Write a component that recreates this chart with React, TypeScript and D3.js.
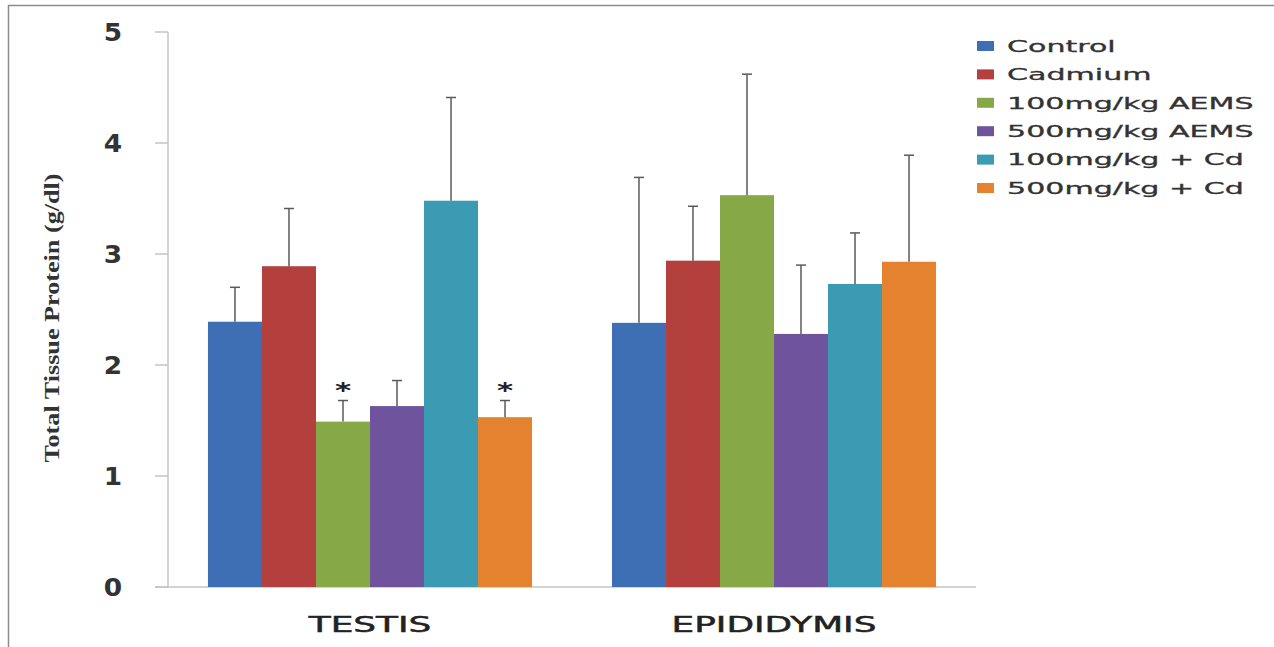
import React, { useEffect, useRef } from 'react';
import * as d3 from 'd3';

const categories = ['TESTIS', 'EPIDIDYMIS'];
const groups = ['Control', 'Cadmium', '100mg/kg AEMS', '500mg/kg AEMS', '100mg/kg + Cd', '500mg/kg + Cd'];
const colors = ['#3e6eb4', '#b3403d', '#87a846', '#70539d', '#3a9bb3', '#e5822f'];
const testisValues = [2.39, 2.89, 1.49, 1.63, 3.48, 1.53];
const testisErrors = [0.31, 0.52, 0.19, 0.23, 0.93, 0.15];
const epididymisValues = [2.38, 2.94, 3.53, 2.28, 2.73, 2.93];
const epididymisErrors = [1.31, 0.49, 1.09, 0.62, 0.46, 0.96];
const significant = [
  [false, false, true, false, false, true],
  [false, false, false, false, false, false]
];
const yTicks = [0, 1, 2, 3, 4, 5];

const W = 1274;
const H = 647;

export default function App() {
  const ref = useRef<SVGSVGElement>(null);

  useEffect(() => {
    const svg = d3.select(ref.current);
    svg.selectAll('*').remove();

    // outer frame of the figure
    svg.append('rect')
      .attr('x', 8.5).attr('y', 5.5)
      .attr('width', W).attr('height', H)
      .attr('fill', 'white')
      .attr('stroke', '#8c8c8c')
      .attr('stroke-width', 1.5);

    const left = 168;
    const right = 976;
    const bottom = 587;
    const top = 32;

    const x0 = d3.scaleBand().domain(categories).range([left, right]).paddingInner(0).paddingOuter(0);
    const x1 = d3.scaleBand().domain(groups).range([0, x0.bandwidth()]).paddingOuter(0.74);
    const y = d3.scaleLinear().domain([0, 5]).range([bottom, top]);

    const values = [testisValues, epididymisValues];
    const errors = [testisErrors, epididymisErrors];

    // axes (the source image is stretched sideways, so text is widened with scale())
    svg.append('line')
      .attr('x1', left).attr('x2', left)
      .attr('y1', y(0)).attr('y2', y(5))
      .attr('stroke', '#c4c4c4').attr('stroke-width', 1.5);
    svg.append('line')
      .attr('x1', left - 13).attr('x2', right)
      .attr('y1', y(0)).attr('y2', y(0))
      .attr('stroke', '#c4c4c4').attr('stroke-width', 1.5);
    yTicks.forEach((t) => {
      svg.append('line')
        .attr('x1', left - 13).attr('x2', left)
        .attr('y1', y(t)).attr('y2', y(t))
        .attr('stroke', '#c4c4c4').attr('stroke-width', 1.5);
      svg.append('text')
        .attr('transform', `translate(113,${y(t)}) scale(1.1,1)`)
        .attr('dy', '0.38em')
        .attr('text-anchor', 'middle')
        .attr('font-family', 'DejaVu Sans, sans-serif')
        .attr('font-weight', 'bold')
        .attr('font-size', 24)
        .attr('fill', '#333')
        .text(t);
    });

    svg.append('text')
      .attr('transform', `translate(59,318) rotate(-90)`)
      .attr('text-anchor', 'middle')
      .attr('font-family', 'Liberation Serif, serif')
      .attr('font-weight', 'bold')
      .attr('font-size', 20)
      .attr('fill', '#333')
      .attr('textLength', 289)
      .attr('lengthAdjust', 'spacingAndGlyphs')
      .text('Total Tissue Protein (g/dl)');

    // bars
    categories.forEach((cat, ci) => {
      const g = svg.append('g').attr('transform', `translate(${x0(cat)},0)`);
      groups.forEach((grp, gi) => {
        const v = values[ci][gi];
        const e = errors[ci][gi];
        const bx = x1(grp) as number;
        const cx = bx + x1.bandwidth() / 2;
        g.append('rect')
          .attr('x', bx).attr('y', y(v))
          .attr('width', x1.bandwidth())
          .attr('height', y(0) - y(v))
          .attr('fill', colors[gi]);
        g.append('line')
          .attr('x1', cx).attr('x2', cx)
          .attr('y1', y(v)).attr('y2', y(v + e))
          .attr('stroke', '#5a5a5a').attr('stroke-width', 1.5);
        g.append('line')
          .attr('x1', cx - 5).attr('x2', cx + 5)
          .attr('y1', y(v + e)).attr('y2', y(v + e))
          .attr('stroke', '#5a5a5a').attr('stroke-width', 1.5);
        if (significant[ci][gi]) {
          g.append('text')
            .attr('transform', `translate(${cx},${y(v + e) - 3}) scale(1.4,1)`)
            .attr('text-anchor', 'middle')
            .attr('font-family', 'DejaVu Sans, sans-serif')
            .attr('font-weight', 'bold')
            .attr('font-size', 22)
            .attr('fill', '#222')
            .text('*');
        }
      });
      svg.append('text')
        .attr('transform', `translate(${(x0(cat) as number) + x0.bandwidth() / 2},632) scale(1.63,1)`)
        .attr('text-anchor', 'middle')
        .attr('font-family', 'DejaVu Sans, sans-serif')
        .attr('font-size', 22)
        .attr('fill', '#222')
        .attr('stroke', '#222')
        .attr('stroke-width', 0.5)
        .text(cat);
    });

    // legend
    const legend = svg.append('g').attr('transform', 'translate(977,46)');
    groups.forEach((grp, gi) => {
      const row = legend.append('g').attr('transform', `translate(0,${gi * 28.4})`);
      row.append('rect')
        .attr('x', 0).attr('y', -5)
        .attr('width', 17).attr('height', 10)
        .attr('fill', colors[gi]);
      row.append('text')
        .attr('transform', 'translate(30,0) scale(1.88,1)')
        .attr('dy', '0.36em')
        .attr('font-family', 'DejaVu Sans, sans-serif')
        .attr('font-size', 16)
        .attr('fill', '#333')
        .attr('stroke', '#333')
        .attr('stroke-width', 0.3)
        .text(grp);
    });
  }, []);

  return (
    <svg ref={ref} width={W} height={H} style={{ position: 'absolute', left: 0, top: 0, background: 'white' }} />
  );
}
